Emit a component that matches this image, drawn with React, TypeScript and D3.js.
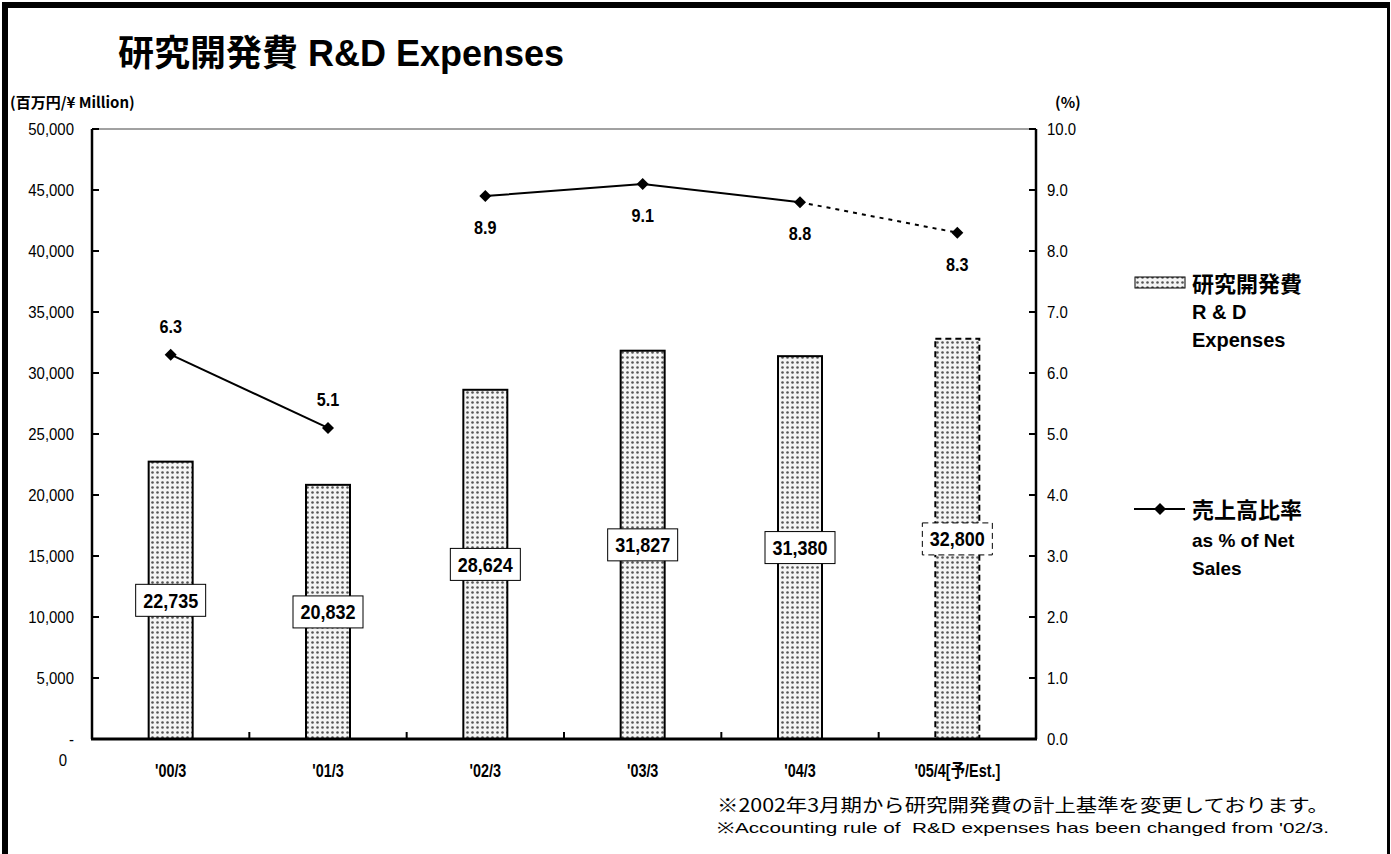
import { useMemo, type ReactNode } from "react";
import { scaleBand, scaleLinear, range, format, line as d3line } from "d3";

const categories = ["'00/3", "'01/3", "'02/3", "'03/3", "'04/3", "'05/4[予/Est.]"];
const rdExpenses = [22735, 20832, 28624, 31827, 31380, 32800];
const salesRatio = [6.3, 5.1, 8.9, 9.1, 8.8, 8.3];
const ratioLabelAbove = [true, true, false, false, false, false];
const isEstimate = [false, false, false, false, false, true];
// accounting rule changed from '02/3, so the ratio line is broken there
const ratioBreakBefore = 2;
const leftTicks = range(0, 50001, 5000);
const rightTicks = range(0, 10.01, 1);

const W = 1391;
const H = 854;
const M = { left: 92, right: 1036, top: 129, bottom: 739 };

const SANS = "'Liberation Sans', Arial, sans-serif";
const JP = "'Noto Sans CJK JP', sans-serif";

// condensed text, like Arial Narrow in the original
function NText({
  x,
  y,
  children,
  size = 17,
  anchor = "start",
  bold = false,
  sx = 0.88,
  dy,
}: {
  x: number;
  y: number;
  children: ReactNode;
  size?: number;
  anchor?: "start" | "middle" | "end";
  bold?: boolean;
  sx?: number;
  dy?: string;
}) {
  return (
    <text
      transform={`translate(${x},${y}) scale(${sx},1)`}
      dy={dy}
      textAnchor={anchor}
      fontSize={size}
      fontWeight={bold ? "bold" : "normal"}
      fontFamily={SANS}
    >
      {children}
    </text>
  );
}

function Diamond({ x, y, s = 6 }: { x: number; y: number; s?: number }) {
  return (
    <path
      d={`M${x},${y - s}L${x + s},${y}L${x},${y + s}L${x - s},${y}Z`}
      fill="#000"
    />
  );
}

export default function App() {
  const x = useMemo(
    () => scaleBand<string>().domain(categories).range([M.left, M.right]).padding(0),
    []
  );
  const yL = useMemo(
    () => scaleLinear().domain([0, 50000]).range([M.bottom, M.top]),
    []
  );
  const yR = useMemo(
    () => scaleLinear().domain([0, 10]).range([M.bottom, M.top]),
    []
  );
  const cx = (i: number) => (x(categories[i]) ?? 0) + x.bandwidth() / 2;
  const barW = 44;
  const fmtL = (d: number) => (d === 0 ? "-" : format(",")(d));
  const fmtR = format(".1f");

  const lineGen = d3line<number>()
    .x((i) => cx(i))
    .y((i) => yR(salesRatio[i]));

  const idx = salesRatio.map((_, i) => i);
  const firstSeg = idx.filter((i) => i < ratioBreakBefore);
  const solidSeg = idx.filter((i) => i >= ratioBreakBefore && !isEstimate[i]);
  const estSeg = idx.filter((i) => i >= ratioBreakBefore && (isEstimate[i] || isEstimate[i + 1]));

  return (
    <svg
      width={W}
      height={H}
      style={{ position: "absolute", left: 0, top: 0, background: "#fff" }}
    >
      <defs>
        <pattern id="dots" width="5" height="5" patternUnits="userSpaceOnUse">
          <rect width="5" height="5" fill="#f4f4f4" />
          <circle cx="2.5" cy="2.5" r="1.3" fill="#555" />
        </pattern>
      </defs>

      {/* frame */}
      <rect x={2} y={2} width={6} height={H} fill="#000" />
      <rect x={2} y={2} width={W - 4} height={6} fill="#000" />
      <rect x={W - 4} y={2} width={3} height={H} fill="#000" />

      {/* title */}
      <text x={118} y={66} fontSize={36} fontWeight="bold" fontFamily={JP}>
        研究開発費<tspan fontFamily={SANS} dx={10}>R&amp;D Expenses</tspan>
      </text>
      <text x={10} y={108} fontSize={15} fontWeight="bold" fontFamily={JP}>
        (百万円/¥ Million)
      </text>
      <text x={1055} y={108} fontSize={15} fontWeight="bold" fontFamily={JP}>
        (%)
      </text>

      {/* plot frame */}
      <line x1={M.left} x2={M.right} y1={M.top} y2={M.top} stroke="#444" strokeWidth={1} />

      {/* bars */}
      {rdExpenses.map((v, i) => (
        <rect
          key={categories[i]}
          x={cx(i) - barW / 2}
          y={yL(v)}
          width={barW}
          height={yL(0) - yL(v)}
          fill="url(#dots)"
          stroke="#000"
          strokeWidth={2}
          strokeDasharray={isEstimate[i] ? "6,4" : undefined}
        />
      ))}

      {/* axes */}
      <line x1={M.left} x2={M.left} y1={M.top} y2={M.bottom} stroke="#000" strokeWidth={2.5} />
      <line x1={M.right} x2={M.right} y1={M.top} y2={M.bottom} stroke="#000" strokeWidth={2.5} />
      <line x1={M.left - 1} x2={M.right + 1} y1={M.bottom} y2={M.bottom} stroke="#000" strokeWidth={3} />

      {leftTicks.map((t) => (
        <g key={"l" + t}>
          <line x1={M.left} x2={M.left + 7} y1={yL(t)} y2={yL(t)} stroke="#000" strokeWidth={2} />
          <NText x={M.left - 18} y={yL(t)} dy="0.35em" anchor="end">
            {fmtL(t)}
          </NText>
        </g>
      ))}
      <NText x={63} y={766} anchor="middle">
        0
      </NText>

      {rightTicks.map((t) => (
        <g key={"r" + t}>
          <line x1={M.right - 7} x2={M.right} y1={yR(t)} y2={yR(t)} stroke="#000" strokeWidth={2} />
          <NText x={M.right + 11} y={yR(t)} dy="0.35em">
            {fmtR(t)}
          </NText>
        </g>
      ))}

      {categories.slice(1).map((c) => (
        <line
          key={"xt" + c}
          x1={x(c) ?? 0}
          x2={x(c) ?? 0}
          y1={M.bottom}
          y2={M.bottom - 7}
          stroke="#000"
          strokeWidth={2}
        />
      ))}
      {categories.map((c, i) => (
        <NText key={"xl" + c} x={cx(i)} y={777} anchor="middle" size={18} bold sx={0.8}>
          {c.includes("予") ? (
            <>
              {"'05/4["}
              <tspan fontFamily={JP}>予</tspan>
              {"/Est.]"}
            </>
          ) : (
            c
          )}
        </NText>
      ))}

      {/* bar value labels */}
      {rdExpenses.map((v, i) => {
        const ym = (yL(v) + yL(0)) / 2;
        return (
          <g key={"bl" + i}>
            <rect
              x={cx(i) - 35}
              y={ym - 16}
              width={70}
              height={32}
              fill="#fff"
              stroke="#000"
              strokeWidth={1}
              strokeDasharray={isEstimate[i] ? "6,4" : undefined}
            />
            <NText x={cx(i)} y={ym} dy="0.36em" anchor="middle" size={20} bold sx={0.9}>
              {format(",")(v)}
            </NText>
          </g>
        );
      })}

      {/* ratio line */}
      <path d={lineGen(firstSeg) ?? ""} fill="none" stroke="#000" strokeWidth={2} />
      <path d={lineGen(solidSeg) ?? ""} fill="none" stroke="#000" strokeWidth={2} />
      <path
        d={lineGen(estSeg) ?? ""}
        fill="none"
        stroke="#000"
        strokeWidth={2}
        strokeDasharray="4,5"
      />
      {salesRatio.map((v, i) => (
        <g key={"rp" + i}>
          <Diamond x={cx(i)} y={yR(v)} />
          <NText
            x={cx(i)}
            y={ratioLabelAbove[i] ? yR(v) - 22 : yR(v) + 38}
            anchor="middle"
            size={18}
            bold
            sx={0.9}
          >
            {fmtR(v)}
          </NText>
        </g>
      ))}

      {/* legend */}
      <rect x={1135} y={277} width={50} height={11} fill="url(#dots)" stroke="#000" strokeWidth={1} />
      <text x={1192} y={292} fontSize={22} fontWeight="bold" fontFamily={JP}>
        研究開発費
      </text>
      <text x={1192} y={319} fontSize={20} fontWeight="bold" fontFamily={SANS}>
        R &amp; D
      </text>
      <text x={1192} y={347} fontSize={20} fontWeight="bold" fontFamily={SANS}>
        Expenses
      </text>

      <line x1={1134} x2={1185} y1={509} y2={509} stroke="#000" strokeWidth={2} />
      <Diamond x={1160} y={509} s={6} />
      <text x={1192} y={518} fontSize={22} fontWeight="bold" fontFamily={JP}>
        売上高比率
      </text>
      <text x={1192} y={547} fontSize={19} fontWeight="bold" fontFamily={SANS}>
        as % of Net
      </text>
      <text x={1192} y={575} fontSize={19} fontWeight="bold" fontFamily={SANS}>
        Sales
      </text>

      {/* footnotes */}
      <text x={717} y={812} fontSize={18} fontFamily={JP} textLength={612} lengthAdjust="spacingAndGlyphs">
        ※2002年3月期から研究開発費の計上基準を変更しております。
      </text>
      <text
        x={717}
        y={833}
        fontSize={15}
        fontFamily={SANS}
        textLength={612}
        lengthAdjust="spacingAndGlyphs"
        style={{ whiteSpace: "pre" }}
      >
        {"※Accounting rule of  R&D expenses has been changed from '02/3."}
      </text>
    </svg>
  );
}
